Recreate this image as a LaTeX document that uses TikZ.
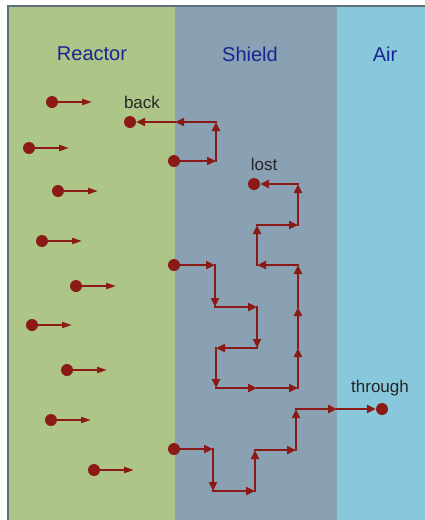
\documentclass[tikz,border=0pt]{standalone}
\usepackage{fontspec}
\setmainfont{Liberation Sans}
\usetikzlibrary{arrows.meta,positioning,decorations.pathreplacing}
\definecolor{reactorbg}{HTML}{ADC688}
\definecolor{shieldbg}{HTML}{8AA0B3}
\definecolor{airbg}{HTML}{88C8DC}
\definecolor{framegray}{HTML}{5E6E7A}
\definecolor{neutron}{HTML}{8B1A17}
\definecolor{zonetext}{HTML}{1A2590}
\tikzset{
	shielding/.style={
		x=1pt, y=-1pt,
		zone/.style={font=\fontsize{20}{24}\selectfont, text=zonetext},
		tag/.style={font=\fontsize{17}{20}\selectfont, text=black!85, inner sep=0pt},
		particle/.style={circle, fill=neutron, inner sep=0pt, minimum size=12pt},
		hop/.style={draw=neutron, line width=2.6pt, line cap=rect, -{Triangle[length=9pt,width=8pt]}},
		fly/.style={draw=neutron, line width=2pt, -{Triangle[length=10pt,width=6pt]}},
		walk/.style={decorate, decoration={show path construction,
			lineto code={\draw[hop] (\tikzinputsegmentfirst) -- (\tikzinputsegmentlast);}}}
	}
}

\begin{document}
\begin{tikzpicture}[shielding]
	\useasboundingbox (0,0) rectangle (425,520);
	\fill[reactorbg] (8,6) rectangle (175,520);
	\fill[shieldbg] (175,6) rectangle (337,520);
	\fill[airbg] (337,6) rectangle (425,520);
	\draw[framegray, line width=2pt] (8,520) -- (8,6) -- (425,6);
	\node[zone] (reactor) at (92,54) {Reactor};
	\node[zone] (shield) at (250,54) {Shield};
	\node[zone] (air) at (385,54) {Air};
	% neutrons born in the core
	\foreach \x/\y [count=\i] in {52/102, 29/148, 58/191, 42/241, 76/286, 32/325, 67/370, 51/420, 94/470} {
		\node[particle] (src\i) at (\x,\y) {};
		\coordinate (tip\i) at (\x+40,\y);
		\draw[fly] (src\i) -- (tip\i);
	}
	\node[particle] (backin) at (174,161) {};
	\node[particle] (back) at (130,122) {};
	\path[walk] (backin) -- (216,161) -- (216,122) -- (175,122) -- (back);
	\node[particle] (lostin) at (174,265) {};
	\node[particle] (lost) at (254,184) {};
	\path[walk] (lostin) -- (215,265) -- (215,307) -- (257,307) -- (257,348) -- (216,348) -- (216,388)
		-- (257,388) -- (298,388) -- (298,348) -- (298,307) -- (298,265) -- (257,265) -- (257,225)
		-- (298,225) -- (298,184) -- (lost);
	\node[particle] (thruin) at (174,449) {};
	\node[particle] (thru) at (382,409) {};
	\path[walk] (thruin) -- (213,449) -- (213,491) -- (255,491) -- (255,450) -- (296,450) -- (296,409)
		-- (337,409) -- (thru);
	\node[tag, above=7pt of back, xshift=12pt] (backtag) {back};
	\node[tag, above=7pt of lost, xshift=10pt] (losttag) {lost};
	\node[tag, above=7pt of thru, xshift=-2pt] (thrutag) {through};
\end{tikzpicture}
\end{document}
